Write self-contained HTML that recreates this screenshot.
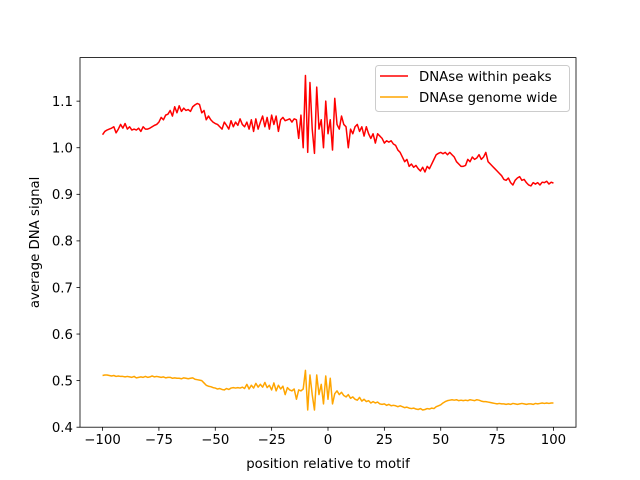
<!DOCTYPE html>
<html><head><meta charset="utf-8"><style>
body{margin:0;background:#fff}
svg{display:block;font-family:"DejaVu Sans","Liberation Sans",sans-serif}
</style></head><body>
<svg id="chart" width="640" height="480" viewBox="0 0 640 480">
<rect width="640" height="480" fill="#fff"/>
<g id="series"></g>
<g id="axes"></g>
</svg>
<script>
const xTicks=[-100,-75,-50,-25,0,25,50,75,100];
const yTicks=[0.4,0.5,0.6,0.7,0.8,0.9,1.0,1.1];
const yTickLabels=["0.4","0.5","0.6","0.7","0.8","0.9","1.0","1.1"];
const positionStart=-100;
const redValues=[
1.028,1.035,1.038,1.040,1.042,1.045,1.032,1.040,1.050,1.042,
1.052,1.040,1.045,1.038,1.040,1.038,1.042,1.035,1.045,1.040,
1.040,1.042,1.045,1.048,1.050,1.055,1.065,1.060,1.070,1.072,
1.080,1.068,1.088,1.075,1.090,1.078,1.085,1.080,1.082,1.078,
1.088,1.092,1.095,1.093,1.075,1.080,1.060,1.068,1.060,1.055,
1.052,1.050,1.045,1.040,1.055,1.048,1.040,1.058,1.045,1.055,
1.048,1.062,1.050,1.045,1.055,1.040,1.060,1.035,1.062,1.040,
1.055,1.068,1.045,1.065,1.040,1.070,1.050,1.068,1.035,1.060,
1.065,1.058,1.060,1.062,1.055,1.062,1.060,1.020,1.070,1.000,
1.155,0.990,1.140,1.040,0.988,1.130,1.040,1.060,1.000,1.100,
1.030,1.060,0.995,1.106,1.050,1.040,1.068,1.050,1.045,1.000,
1.040,1.030,1.045,1.050,1.035,1.045,1.025,1.045,1.030,1.020,
1.030,1.010,1.030,1.025,1.020,1.010,1.015,1.012,1.015,1.008,
1.005,0.995,0.990,0.980,0.970,0.975,0.960,0.965,0.958,0.962,
0.955,0.950,0.958,0.948,0.960,0.955,0.965,0.975,0.985,0.988,
0.990,0.987,0.990,0.985,0.990,0.985,0.980,0.970,0.965,0.960,
0.960,0.962,0.975,0.970,0.980,0.975,0.978,0.985,0.975,0.980,
0.990,0.970,0.965,0.960,0.955,0.950,0.945,0.940,0.932,0.930,
0.935,0.925,0.920,0.930,0.935,0.938,0.930,0.932,0.925,0.920,
0.918,0.925,0.922,0.925,0.920,0.926,0.925,0.928,0.922,0.926,0.924];
const orangeValues=[
0.511,0.512,0.512,0.511,0.510,0.511,0.509,0.510,0.509,0.509,
0.508,0.509,0.508,0.507,0.509,0.506,0.507,0.508,0.507,0.509,
0.507,0.508,0.510,0.508,0.509,0.508,0.507,0.508,0.506,0.507,
0.507,0.505,0.506,0.505,0.505,0.504,0.506,0.505,0.504,0.505,
0.506,0.503,0.502,0.501,0.500,0.495,0.490,0.488,0.487,0.485,
0.484,0.482,0.483,0.481,0.480,0.483,0.481,0.484,0.485,0.484,
0.485,0.484,0.486,0.483,0.492,0.482,0.490,0.484,0.494,0.486,
0.492,0.486,0.496,0.485,0.490,0.480,0.495,0.478,0.490,0.482,
0.488,0.470,0.485,0.480,0.478,0.482,0.460,0.480,0.478,0.482,
0.522,0.437,0.512,0.470,0.437,0.512,0.470,0.492,0.450,0.510,
0.460,0.505,0.450,0.472,0.478,0.470,0.475,0.468,0.465,0.470,
0.462,0.465,0.460,0.458,0.464,0.456,0.460,0.455,0.457,0.452,
0.455,0.452,0.454,0.450,0.449,0.450,0.447,0.449,0.446,0.447,
0.446,0.444,0.446,0.444,0.442,0.443,0.441,0.440,0.441,0.439,
0.438,0.440,0.437,0.438,0.440,0.439,0.441,0.440,0.444,0.446,
0.448,0.452,0.455,0.457,0.458,0.459,0.458,0.459,0.457,0.458,
0.457,0.458,0.457,0.459,0.458,0.457,0.459,0.458,0.456,0.455,
0.455,0.454,0.453,0.452,0.451,0.450,0.451,0.450,0.450,0.449,
0.450,0.449,0.451,0.450,0.449,0.450,0.451,0.450,0.449,0.450,
0.450,0.449,0.451,0.450,0.451,0.452,0.451,0.452,0.451,0.452,0.452];
const seriesNames=["DNAse within peaks","DNAse genome wide"];

const L=80,R=576,T=57.6,B=427.2;
const xMin=-110,xMax=110,yMin=0.4,yMax=1.1935;
const sx=v=>L+(v-xMin)/(xMax-xMin)*(R-L);
const sy=v=>B-(v-yMin)/(yMax-yMin)*(B-T);
const NS="http://www.w3.org/2000/svg";
function mk(tag,attrs,parent){const e=document.createElementNS(NS,tag);for(const k in attrs)e.setAttribute(k,attrs[k]);parent.appendChild(e);return e;}
const series=document.getElementById('series'),axes=document.getElementById('axes');
function line(vals,color,name){
  const d=vals.map((v,i)=>(i?'L':'M')+sx(positionStart+i).toFixed(2)+','+sy(v).toFixed(2)).join('');
  const p=mk('path',{d:d,fill:'none',stroke:color,'stroke-width':1.5,'stroke-linejoin':'round'},series);
  
  
}
line(redValues,'#ff0000','line-dnase-within-peaks');
line(orangeValues,'#ffa500','line-dnase-genome-wide');
const frame=mk('rect',{x:L,y:T,width:R-L,height:B-T,fill:'none',stroke:'#000','stroke-width':0.8},axes);


xTicks.forEach(t=>{
  const x=sx(t);
  mk('line',{x1:x,x2:x,y1:B,y2:B+3.5,stroke:'#000','stroke-width':0.8},axes);
  const tx=mk('text',{x:x,y:B+17,'text-anchor':'middle','font-size':'13.3px',fill:'#000'},axes);
  tx.textContent=String(t).replace('-','\u2212');
  
  
});
yTicks.forEach((t,i)=>{
  const y=sy(t);
  mk('line',{x1:L-3.5,x2:L,y1:y,y2:y,stroke:'#000','stroke-width':0.8},axes);
  const tx=mk('text',{x:L-7,y:y+4.8,'text-anchor':'end','font-size':'13.3px',fill:'#000'},axes);
  tx.textContent=yTickLabels[i];
  
  
});
const xl=mk('text',{x:(L+R)/2,y:468,'text-anchor':'middle','font-size':'13.3px'},axes);
xl.textContent='position relative to motif';


const yl=mk('text',{x:0,y:0,'text-anchor':'middle','font-size':'13.3px',transform:`translate(39,${(T+B)/2}) rotate(-90)`},axes);
yl.textContent='average DNA signal';


const lg=mk('g',{},axes);


mk('rect',{x:375.5,y:65.5,width:194,height:46,rx:3,fill:'#fff','fill-opacity':0.8,stroke:'#ccc','stroke-width':1},lg);
['#ff0000','#ffa500'].forEach((c,i)=>{
  const y=76+i*21;
  mk('line',{x1:380,x2:408,y1:y,y2:y,stroke:c,'stroke-width':1.5},lg);
  const t=mk('text',{x:419,y:y+4.8,'font-size':'13.3px'},lg);
  t.textContent=seriesNames[i];
  
  
});
</script>
</body></html>
